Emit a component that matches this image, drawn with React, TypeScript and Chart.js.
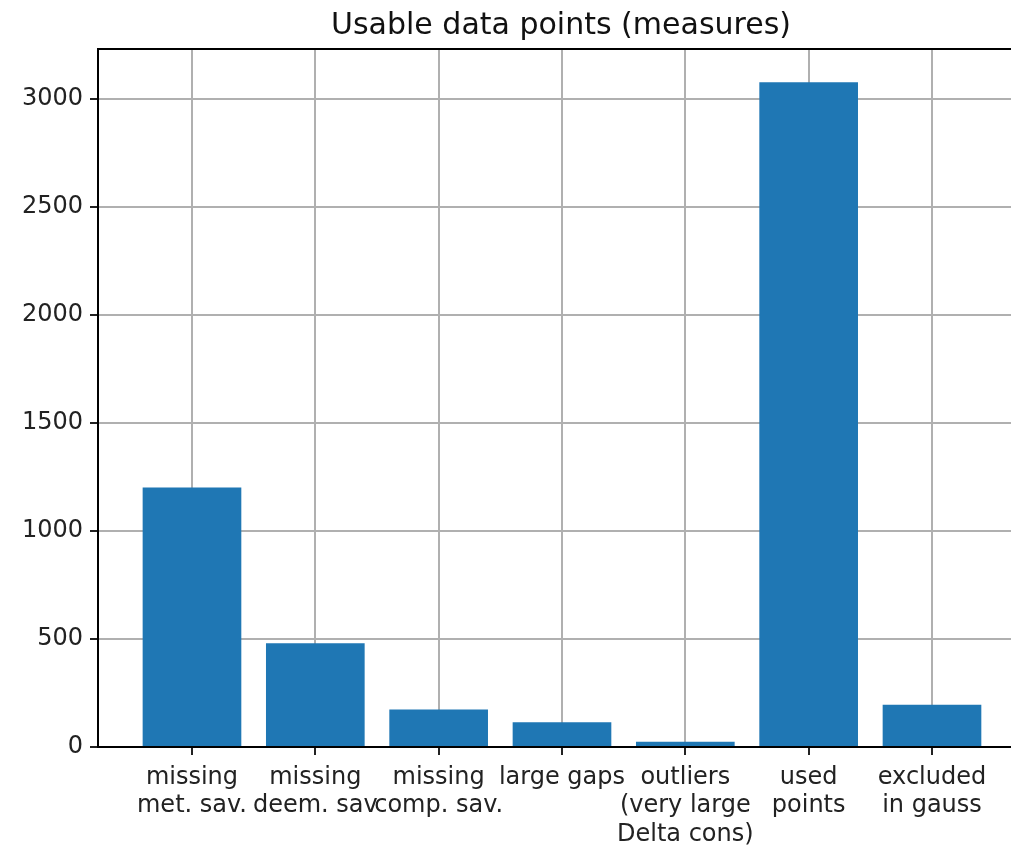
import React, { useEffect, useRef } from "react";
import { Chart, registerables } from "chart.js";

Chart.register(...registerables);

const categories: string[] = [
  "missing\nmet. sav.",
  "missing\ndeem. sav",
  "missing\ncomp. sav.",
  "large gaps",
  "outliers\n(very large\nDelta cons)",
  "used\npoints",
  "excluded\nin gauss",
];
const values: number[] = [1200, 480, 173, 115, 24, 3075, 195];
const yTicks: number[] = [0, 500, 1000, 1500, 2000, 2500, 3000];
const titleText = "Usable data points (measures)";

const FONT = "'DejaVu Sans', sans-serif";

const spinesPlugin = {
  id: "spines",
  afterDraw(chart: any) {
    const { ctx, chartArea } = chart;
    ctx.save();
    ctx.strokeStyle = "#000";
    ctx.lineWidth = 2;
    ctx.strokeRect(chartArea.left, chartArea.top, chartArea.right - chartArea.left, chartArea.bottom - chartArea.top);
    ctx.restore();
  },
};

export default function App() {
  const ref = useRef<HTMLCanvasElement | null>(null);
  useEffect(() => {
    if (!ref.current) return;
    const data = categories.map((_, i) => ({ x: i, y: values[i] }));
    const chart = new Chart(ref.current, {
      type: "bar",
      data: {
        datasets: [
          {
            data: data as any,
            backgroundColor: "#1f77b4",
            borderWidth: 0,
            barPercentage: 0.8,
            categoryPercentage: 1.0,
          },
        ],
      },
      plugins: [spinesPlugin],
      options: {
        responsive: false,
        animation: false,
        layout: { padding: 0 },
        plugins: {
          legend: { display: false },
          tooltip: { enabled: false },
          title: {
            display: true,
            fullSize: false,
            text: titleText,
            color: "#111",
            font: { family: FONT, size: 30, weight: "normal" },
            padding: { top: 8, bottom: 5 },
          },
        },
        scales: {
          x: {
            type: "linear",
            min: -0.762,
            max: 6.746,
            offset: false,
            z: 1,
            afterFit(scale: any) {
              scale.height = 99;
            },
            afterBuildTicks(scale: any) {
              scale.ticks = categories.map((_, i) => ({ value: i }));
            },
            ticks: {
              autoSkip: false,
              maxRotation: 0,
              minRotation: 0,
              includeBounds: false,
              padding: 8,
              color: "#222",
              font: { family: FONT, size: 24 },
              callback: (v: any) => categories[Number(v)].split("\n"),
            },
            grid: {
              offset: false,
              color: "#b0b0b0",
              lineWidth: 2,
              tickLength: 8,
              tickColor: "#222",
              tickWidth: 2,
            },
            border: { display: false },
          },
          y: {
            type: "linear",
            min: 0,
            max: 3229,
            z: 1,
            afterFit(scale: any) {
              scale.width = 98;
            },
            afterBuildTicks(scale: any) {
              scale.ticks = yTicks.map((v) => ({ value: v }));
            },
            ticks: {
              includeBounds: false,
              padding: 7,
              color: "#222",
              font: { family: FONT, size: 24 },
              callback: (v: any) => String(v),
            },
            grid: {
              color: "#b0b0b0",
              lineWidth: 2,
              tickLength: 8,
              tickColor: "#222",
              tickWidth: 2,
            },
            border: { display: false },
          },
        },
      },
    });
    return () => chart.destroy();
  }, []);
  return (
    <div style={{ position: "fixed", left: 0, top: 0, width: 1024, height: 846, background: "#fff" }}>
      <canvas ref={ref} width={1024} height={846} style={{ display: "block" }} />
    </div>
  );
}
